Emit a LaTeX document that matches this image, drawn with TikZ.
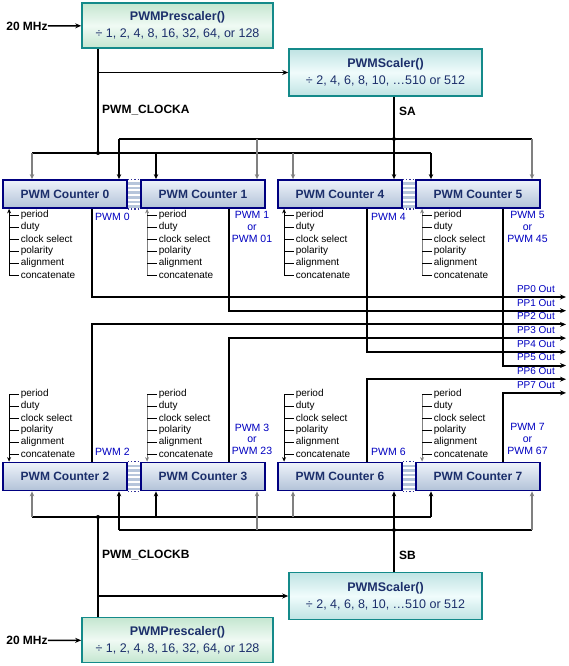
\documentclass[tikz,border=0pt]{standalone}
\usepackage{fontspec}
\setmainfont{Liberation Sans}
\usetikzlibrary{arrows.meta,calc}
\definecolor{tealb}{HTML}{148A8A}
\definecolor{grnA}{HTML}{C4E6D0}
\definecolor{grnB}{HTML}{F0FAF4}
\definecolor{cyA}{HTML}{BFE3E3}
\definecolor{cyB}{HTML}{F0FCFC}
\definecolor{navyb}{HTML}{000080}
\definecolor{ctrA}{HTML}{EEF3FA}
\definecolor{ctrB}{HTML}{B2C2D8}
\definecolor{boxtext}{HTML}{1C2F6B}
\definecolor{pwmblue}{HTML}{0000C0}
\definecolor{stripec}{HTML}{B6C5DB}
\newcommand\pwmlinkbar[2]{%
  \foreach \k in {0,...,5}{\fill[stripec] ($(#1.north east)+(0,{3+4.6*\k})$) rectangle ($(#2.north west)+(0,{5.6+4.6*\k})$);}
  \draw[navyb!80, dotted, line width=1.2pt] (#1.north east) -- (#2.north west);
  \draw[navyb!80, dotted, line width=1.2pt] (#1.south east) -- (#2.south west);
}
\begin{document}
\begin{tikzpicture}[x=1pt,y=-1pt,
  presc/.style={draw=tealb, line width=1.6pt, top color=grnA, bottom color=grnA, middle color=grnB,
    minimum width=191pt, minimum height=45pt, inner sep=0pt, align=center, text=boxtext,
    font=\fontsize{12.5}{17}\selectfont},
  scal/.style={presc, top color=cyA, bottom color=cyA, middle color=cyB, minimum width=193pt, minimum height=47pt},
  ctr/.style={draw=navyb, line width=1.8pt, top color=ctrA, bottom color=ctrB,
    minimum width=124pt, minimum height=28pt, inner sep=0pt, text=boxtext,
    font=\fontsize{12}{14}\selectfont\bfseries},
  bus/.style={line width=2pt},
  drop/.style={line width=1.2pt, -{Stealth[length=5pt,width=4.5pt]}},
  graydrop/.style={drop, draw=gray},
  harrow/.style={line width=1.5pt, -{Stealth[length=6pt,width=5pt]}},
  outl/.style={line width=2pt, -{Stealth[length=6pt,width=5pt]}},
  parm/.style={line width=0.8pt},
  parmv/.style={parm, -{Stealth[length=4.5pt,width=4pt]}},
  plab/.style={font=\fontsize{10}{12}\selectfont, anchor=west, inner sep=0pt},
  pwmlab/.style={text=pwmblue, font=\fontsize{10.5}{11.8}\selectfont, inner sep=0pt, align=center},
  pplab/.style={text=pwmblue, font=\fontsize{10}{12}\selectfont, inner sep=0pt, anchor=east},
  lbl/.style={font=\fontsize{12}{14}\selectfont\bfseries, inner sep=0pt}
]
\useasboundingbox (0,0) rectangle (568,666);

% ---------- boxes ----------
\node[presc] (pA) at (177.5,25.5) {\textbf{PWMPrescaler()}\\÷ 1, 2, 4, 8, 16, 32, 64, or 128};
\node[scal]  (sA) at (385.5,72.5) {\textbf{PWMScaler()}\\÷ 2, 4, 6, 8, 10, …510 or 512};
\node[presc] (pB) at (177.5,640) {\textbf{PWMPrescaler()}\\÷ 1, 2, 4, 8, 16, 32, 64, or 128};
\node[scal]  (sB) at (385.5,596) {\textbf{PWMScaler()}\\÷ 2, 4, 6, 8, 10, …510 or 512};

\node[ctr] (c0) at (65,194) {PWM Counter 0};
\node[ctr] (c1) at (203,194) {PWM Counter 1};
\node[ctr] (c4) at (340,194) {PWM Counter 4};
\node[ctr] (c5) at (478,194) {PWM Counter 5};
\node[ctr] (c2) at (65,476.5) {PWM Counter 2};
\node[ctr] (c3) at (203,476.5) {PWM Counter 3};
\node[ctr] (c6) at (340,476.5) {PWM Counter 6};
\node[ctr] (c7) at (478,476.5) {PWM Counter 7};

\pwmlinkbar{c0}{c1}
\pwmlinkbar{c4}{c5}
\pwmlinkbar{c2}{c3}
\pwmlinkbar{c6}{c7}

% ---------- labels ----------
\node[lbl] (mA) at (27,26) {20 MHz};
\node[lbl] (mB) at (27,640.5) {20 MHz};
\draw[harrow] (mA) -- (pA);
\draw[harrow] (mB) -- (pB);
\node[lbl, anchor=west] (ckA) at (102,110) {PWM\_CLOCKA};
\node[lbl, anchor=west] (saL) at (399,111) {SA};
\node[lbl, anchor=west] (ckB) at (102,555) {PWM\_CLOCKB};
\node[lbl, anchor=west] (sbL) at (399,555) {SB};

% ---------- top clock buses ----------
\coordinate (kA) at (98,153);
\coordinate (jA) at (394,139);
\draw[bus] (pA.south -| kA) -- (kA);
\draw[harrow] (kA |- sA.west) -- (sA.west);
\draw[bus] (32,153) -- (431,153);
\draw[bus] (119,139) -- (532,139);
\draw[drop] (sA.south -| jA) -- (jA |- c4.north);
\fill (kA) circle (2);
\fill (jA) circle (2);
\draw[graydrop] (32,153) -- (32,0 |- c0.north);
\draw[drop] (119,139) -- (119,0 |- c0.north);
\draw[drop] (156,153) -- (156,0 |- c1.north);
\draw[graydrop] (257,139) -- (257,0 |- c1.north);
\draw[graydrop] (293,153) -- (293,0 |- c4.north);
\draw[drop] (431,153) -- (431,0 |- c5.north);
\draw[graydrop] (532,139) -- (532,0 |- c5.north);

% ---------- bottom clock buses ----------
\coordinate (kB) at (98,517);
\coordinate (jB) at (394,530);
\draw[bus] (pB.north -| kB) -- (kB);
\draw[harrow] (kB |- sB.west) -- (sB.west);
\draw[bus] (32,517) -- (431,517);
\draw[bus] (119,530) -- (532,530);
\draw[drop] (sB.north -| jB) -- (jB |- c6.south);
\fill (kB) circle (2);
\fill (jB) circle (2);
\draw[graydrop] (32,517) -- (32,0 |- c2.south);
\draw[drop] (119,530) -- (119,0 |- c2.south);
\draw[drop] (156,517) -- (156,0 |- c3.south);
\draw[graydrop] (257,530) -- (257,0 |- c3.south);
\draw[graydrop] (293,517) -- (293,0 |- c6.south);
\draw[drop] (431,517) -- (431,0 |- c7.south);
\draw[graydrop] (532,530) -- (532,0 |- c7.south);

% ---------- outputs ----------
\foreach \i/\yy in {0/297,1/310.7,2/324.4,3/338.1,4/351.8,5/365.5,6/379.2,7/392.9}{
  \coordinate (pp\i) at (566,\yy);
  \node[pplab] (ppl\i) at (555,{\yy-8}) {PP\i{} Out};
}
\draw[outl] (92,0 |- c0.south) |- (pp0);
\draw[outl] (229,0 |- c1.south) |- (pp1);
\draw[outl] (92,0 |- c2.north) |- (pp2);
\draw[outl] (229,0 |- c3.north) |- (pp3);
\draw[outl] (367,0 |- c4.south) |- (pp4);
\draw[outl] (503,0 |- c5.south) |- (pp5);
\draw[outl] (367,0 |- c6.north) |- (pp6);
\draw[outl] (503,0 |- c7.north) |- (pp7);

% ---------- parameter lists ----------
\foreach \c/\col in {c0/black,c1/gray,c4/black,c5/gray}{
  \coordinate (v\c) at ($(\c.south west)+(7,0)$);
  \draw[parmv, draw=\col] ($(v\c |- 0,275)$) -- (v\c);
  \foreach \t [count=\i from 0] in {period,duty,clock select,polarity,alignment,concatenate}{
    \draw[parm] ($(v\c |- 0,{215+12*\i})$) -- +(10,0);
    \node[plab] (t\c\i) at ($(v\c |- 0,{215+12*\i})+(11.5,0)$) {\t};
  }
}
\foreach \c/\col in {c2/black,c3/gray,c6/black,c7/gray}{
  \coordinate (v\c) at ($(\c.north west)+(7,0)$);
  \draw[parmv, draw=\col] ($(v\c |- 0,394)$) -- (v\c);
  \foreach \t [count=\i from 0] in {period,duty,clock select,polarity,alignment,concatenate}{
    \draw[parm] ($(v\c |- 0,{394+12*\i})$) -- +(10,0);
    \node[plab] (t\c\i) at ($(v\c |- 0,{394+12*\i})+(11.5,0)$) {\t};
  }
}

% ---------- PWM labels ----------
\node[pwmlab, anchor=west] (w0) at (95,217) {PWM 0};
\node[pwmlab, anchor=north] (w1) at (252,211.5) {PWM 1\\or\\PWM 01};
\node[pwmlab, anchor=west] (w4) at (371,217) {PWM 4};
\node[pwmlab, anchor=north] (w5) at (527.5,211.5) {PWM 5\\or\\PWM 45};
\node[pwmlab, anchor=west] (w2) at (95,452) {PWM 2};
\node[pwmlab, anchor=north] (w3) at (252,423.5) {PWM 3\\or\\PWM 23};
\node[pwmlab, anchor=west] (w6) at (371,452) {PWM 6};
\node[pwmlab, anchor=north] (w7) at (527.5,423.5) {PWM 7\\or\\PWM 67};
\end{tikzpicture}
\end{document}
